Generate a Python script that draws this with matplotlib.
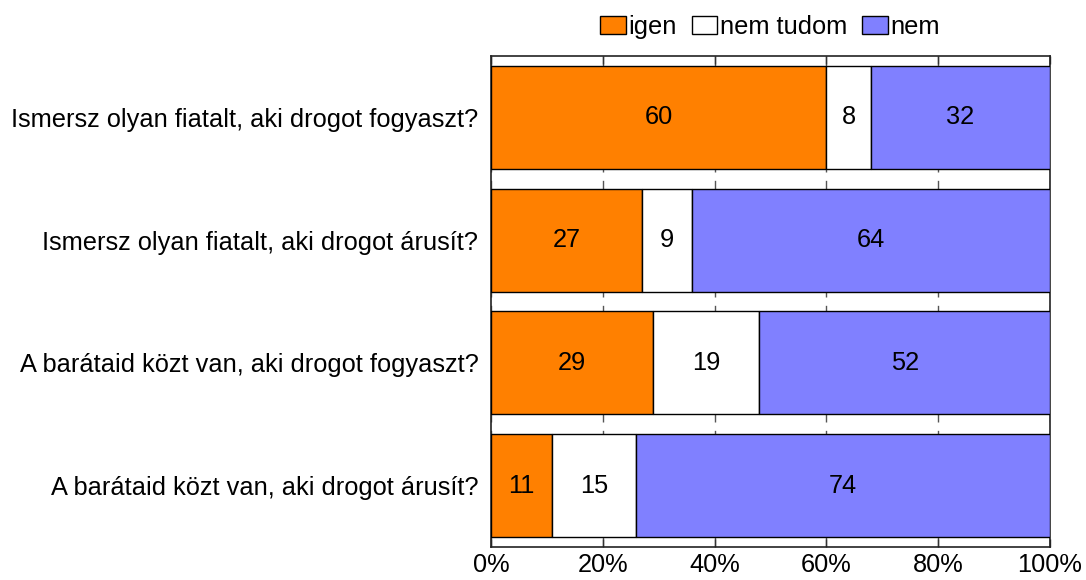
import matplotlib
matplotlib.use("Agg")
import matplotlib.pyplot as plt
import numpy as np

plt.rcParams['font.family'] = ['Liberation Sans', 'DejaVu Sans']

categories = [
    "Ismersz olyan fiatalt, aki drogot fogyaszt?",
    "Ismersz olyan fiatalt, aki drogot árusít?",
    "A barátaid közt van, aki drogot fogyaszt?",
    "A barátaid közt van, aki drogot árusít?",
]
series_names = ["igen", "nem tudom", "nem"]
igen = [60, 27, 29, 11]
nem_tudom = [8, 9, 19, 15]
nem = [32, 64, 52, 74]
colors = ["#FF8000", "#FFFFFF", "#8080FF"]
xticks = [0, 20, 40, 60, 80, 100]
xticklabels = ["0%", "20%", "40%", "60%", "80%", "100%"]

FS = 18.3

fig = plt.figure(figsize=(10.86, 5.80), dpi=100)
ax = fig.add_axes([491/1086, 1-547/580, (1050-491)/1086, (547-56)/580])

y = np.arange(len(categories))
left = np.zeros(len(categories))
handles = []
for name, vals, col in zip(series_names, [igen, nem_tudom, nem], colors):
    bars = ax.barh(y, vals, left=left, height=0.84, color=col, edgecolor="black",
                   linewidth=1.0, label=name, zorder=3)
    for yi, l, v in zip(y, left, vals):
        ax.text(l + v/2, yi, str(v), ha="center", va="center", fontsize=FS, zorder=4)
    left += np.array(vals)
    handles.append(bars)

ax.set_xlim(0, 100)
ax.set_ylim(len(categories) - 0.5, -0.5)
ax.set_yticks(y)
ax.set_yticklabels(categories, fontsize=FS)
ax.set_xticks(xticks)
ax.set_xticklabels(xticklabels, fontsize=FS)
ax.tick_params(axis="y", length=0, pad=9)
ax.tick_params(axis="x", direction="in", length=6, top=True, bottom=True, pad=4, width=1, color="#333333")
ax.xaxis.grid(True, color="#555555", linestyle=(0, (9, 6)), linewidth=1, zorder=0)
for s in ax.spines.values():
    s.set_linewidth(1.2)
    s.set_color("#222222")

fig.legend(handles=handles, labels=series_names, loc="center",
           bbox_to_anchor=(770/1086, 1-27/580), ncol=3, frameon=False,
           fontsize=FS, handlelength=1.0, handleheight=0.75, handletextpad=0.1,
           columnspacing=0.6)

fig.savefig("out.png", dpi=100)
